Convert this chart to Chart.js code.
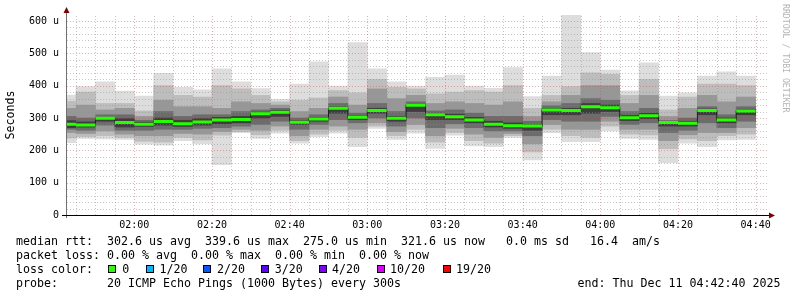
<!DOCTYPE html>
<html lang="en">
<head>
  <meta charset="UTF-8">
  <script src="https://cdn.jsdelivr.net/npm/chart.js"></script>
  <title>smokeping</title>
  <style>
    body{margin:0; background:#fff;}
    #wrap{position:relative; width:797px; height:297px; font-family:"DejaVu Sans Mono", monospace; color:#000;}
    #wrap canvas{position:absolute; left:0; top:0;}
    .leg{position:absolute; left:16px; font-size:11.63px; line-height:14px; white-space:pre;}
    .box{position:absolute; top:265px; width:6px; height:6px; border:1px solid #000;}
    #credit{position:absolute; left:781px; top:4px; writing-mode:vertical-rl; font-size:8.2px; line-height:10px; color:#b4b4b4; white-space:pre;}
  </style>
</head>
<body>
<div id="wrap">
  <canvas id="c" width="797" height="297"></canvas>
  <div id="credit">RRDTOOL / TOBI OETIKER</div>
  <div class="leg" style="top:234px">median rtt:  302.6 us avg  339.6 us max  275.0 us min  321.6 us now   0.0 ms sd   16.4  am/s</div>
  <div class="leg" style="top:248px">packet loss: 0.00 % avg  0.00 % max  0.00 % min  0.00 % now</div>
  <div class="leg" style="top:262px">loss color:</div>
  <div id="lossRow"></div>
  <div class="leg" style="top:276px">probe:       20 ICMP Echo Pings (1000 Bytes) every 300s</div>
  <div class="leg" style="top:276px; left:577.5px">end: Thu Dec 11 04:42:40 2025</div>
</div>
<script>
  // 5 minute slots (end time of each slot)
  const slotEnd = ['01:45','01:50','01:55','02:00','02:05','02:10','02:15','02:20','02:25','02:30','02:35','02:40',
                   '02:45','02:50','02:55','03:00','03:05','03:10','03:15','03:20','03:25','03:30','03:35','03:40',
                   '03:45','03:50','03:55','04:00','04:05','04:10','04:15','04:20','04:25','04:30','04:35','04:40'];

  // median rtt (us)
  const median = [281,278,299,286,281,289,282,288,294,295,313,318,287,297,330,302,323,299,339.6,310,304,294,281,276,275.0,325,323,335,332,301,307,286,284,323,294,321.6];

  // smoke: sorted pings, outer pair -> inner pair (us)
  const pMin = [224,237,235,234,219,216,230,220,156,255,237,253,222,242,253,211,268,234,253,206,247,214,211,240,170,255,227,227,260,237,234,162,222,211,232,234];
  const pMax = [371,397,412,383,368,438,395,387,452,412,391,358,405,474,399,533,452,412,399,426,433,399,392,456,366,430,621,502,448,384,471,368,378,430,443,430];
  const lo1 = [238,242,245,240,228,225,240,232,247,258,248,262,230,250,262,240,275,245,265,225,255,230,222,245,195,265,245,240,275,250,248,205,235,230,245,250];
  const hi1 = [352,380,345,345,322,400,370,365,400,390,370,350,355,362,385,378,420,395,390,375,380,385,380,400,330,370,397,440,435,370,420,325,365,405,405,400];
  const lo2 = [255,252,260,250,245,245,252,250,258,265,262,275,245,265,275,265,285,258,280,245,268,250,240,252,220,280,265,265,290,265,265,230,248,255,255,270];
  const hi2 = [330,340,325,330,305,355,335,335,330,350,345,340,320,330,365,340,390,360,370,345,350,345,340,350,305,350,370,400,400,345,370,305,330,370,350,365];
  const lo3 = [265,262,278,262,262,265,265,268,270,275,280,290,265,280,295,285,300,275,300,270,282,270,260,260,245,295,290,290,305,280,285,255,262,285,270,290];
  const hi3 = [305,300,310,310,293,320,305,310,310,320,325,330,300,310,345,315,345,320,350,322,325,315,305,305,290,338,345,360,355,320,330,292,300,335,310,335];
  const lo4 = [270,272,290,272,274,278,274,278,282,285,300,305,280,290,315,295,315,290,320,295,295,285,272,268,262,310,310,315,320,292,298,275,275,310,285,310];
  const hi4 = [292,288,302,298,287,300,293,298,302,305,318,324,292,302,335,307,330,305,343,315,312,302,290,285,280,330,330,345,340,308,315,290,290,328,300,327];

  const yTicks = [0,100,200,300,400,500,600];
  const xTicks = ['02:00','02:20','02:40','03:00','03:20','03:40','04:00','04:20','04:40'];

  const lossLabels = ['0','1/20','2/20','3/20','4/20','10/20','19/20'];
  const lossColors = ['#26ff00','#00b8ff','#0059ff','#5e00ff','#7e00ff','#dd00ff','#ff0000'];

  function toMin(s){ const p = s.split(':').map(Number); return p[0]*60 + p[1]; }
  function fmt(v){ const h = Math.floor(v/60), m = Math.round(v%60); return String(h).padStart(2,'0')+':'+String(m).padStart(2,'0'); }

  const viewStart = toMin('01:42') + 40/60;  // 01:42:40
  const viewEnd = viewStart + 180;

  // loss colour legend
  const boxX = [108,146,203,261,319,377,443];
  const lblX = [122.3,159.4,217,274.7,332,390,456];
  const row = document.getElementById('lossRow');
  lossLabels.forEach((l,i)=>{
    const b = document.createElement('div');
    b.className = 'box'; b.style.left = boxX[i]+'px'; b.style.background = lossColors[i];
    row.appendChild(b);
    const t = document.createElement('div');
    t.className = 'leg'; t.style.top = '262px'; t.style.left = lblX[i]+'px'; t.textContent = l;
    row.appendChild(t);
  });

  // smoke bands, lightest first
  const bands = [[pMin,pMax,'#dddddd'],[lo1,hi1,'#bdbdbd'],[lo2,hi2,'#979797'],[lo3,hi3,'#6c6c6c'],[lo4,hi4,'#3e3e3e']];
  const datasets = [];
  bands.forEach((b,k)=>{
    datasets.push({
      type:'bar',
      data: slotEnd.map((t,i)=>({x: toMin(t)-2.5, y:[b[0][i], b[1][i]]})),
      backgroundColor: b[2],
      borderWidth: 0,
      grouped: false,
      barPercentage: 1,
      categoryPercentage: 1,
      clip: 0,
      order: 10 - k
    });
  });

  // dark step line (vertical joins between medians)
  const STEP_IDX = datasets.length;
  datasets.push({
    type:'line',
    data: slotEnd.map((t,i)=>({x: toMin(t), y: median[i]})),
    stepped: 'after',
    borderColor: '#202020',
    borderWidth: 1,
    pointRadius: 0,
    clip: 0,
    order: 2
  });

  // green median segments
  const medPts = [];
  slotEnd.forEach((t,i)=>{
    const e = toMin(t);
    medPts.push({x:e-5, y:median[i]}, {x:e, y:median[i]}, {x:e, y:null});
  });
  datasets.push({
    type:'line',
    data: medPts,
    borderColor: lossColors[0],
    borderWidth: 3,
    pointRadius: 0,
    spanGaps: false,
    clip: 0,
    order: 1
  });

  const gridPlugin = {
    id:'rrdGrid',
    beforeDatasetDraw(chart, args){
      if(args.index !== STEP_IDX) return;
      const {ctx, chartArea:a, scales:{x, y}} = chart;
      ctx.save();
      ctx.lineWidth = 1;
      ctx.setLineDash([1,2]);
      for(let v=20; v<=y.max; v+=20){
        const py = Math.round(y.getPixelForValue(v)) + 0.5;
        ctx.strokeStyle = v%100===0 ? 'rgba(226,60,60,0.42)' : 'rgba(143,143,143,0.5)';
        ctx.beginPath(); ctx.moveTo(a.left, py); ctx.lineTo(a.right+3, py); ctx.stroke();
      }
      slotEnd.forEach(t=>{
        const m = toMin(t);
        const px = Math.round(x.getPixelForValue(m)) + 0.5;
        ctx.strokeStyle = m%20===0 ? 'rgba(226,60,60,0.42)' : 'rgba(143,143,143,0.5)';
        ctx.beginPath(); ctx.moveTo(px, a.bottom); ctx.lineTo(px, a.top-1); ctx.stroke();
      });
      ctx.restore();
    },
    afterDraw(chart){
      const {ctx, chartArea:a} = chart;
      ctx.save();
      // y axis
      ctx.fillStyle = '#707070';
      ctx.fillRect(a.left-1, 12, 1, a.bottom-12+3);
      ctx.fillStyle = '#7f0000';
      ctx.beginPath(); ctx.moveTo(a.left-0.5, 7); ctx.lineTo(a.left-3.5, 13); ctx.lineTo(a.left+2.5, 13); ctx.closePath(); ctx.fill();
      // x axis
      ctx.fillStyle = '#000';
      ctx.fillRect(a.left-5, a.bottom, a.right+4-(a.left-5), 1);
      ctx.fillStyle = '#7f0000';
      ctx.beginPath(); ctx.moveTo(a.right+9, a.bottom+0.5); ctx.lineTo(a.right+3, a.bottom-2.5); ctx.lineTo(a.right+3, a.bottom+3.5); ctx.closePath(); ctx.fill();
      ctx.restore();
    }
  };

  const tickFont = {family:'DejaVu Sans Mono', size:10};

  new Chart(document.getElementById('c'), {
    type:'bar',
    data:{ datasets: datasets },
    options:{
      responsive:false,
      animation:false,
      devicePixelRatio:1,
      events:[],
      layout:{ padding:{top:15, right:31, left:0, bottom:0} },
      plugins:{ legend:{display:false}, tooltip:{enabled:false} },
      scales:{
        x:{
          type:'linear',
          min: viewStart,
          max: viewEnd,
          bounds:'data',
          offset:false,
          grid:{display:false, drawTicks:false},
          border:{display:false},
          afterBuildTicks: s => { s.ticks = xTicks.map(t=>({value: toMin(t)})); },
          afterFit: s => { s.height = 82; },
          ticks:{ autoSkip:false, maxRotation:0, padding:4, color:'#000', font:tickFont,
                  callback: v => fmt(v) }
        },
        y:{
          type:'linear',
          min:0,
          max:618.6,
          bounds:'data',
          grid:{display:false, drawTicks:false},
          border:{display:false},
          afterBuildTicks: s => { s.ticks = yTicks.map(v=>({value:v})); },
          afterFit: s => { s.width = 67; },
          title:{ display:true, text:'Seconds', color:'#000', font:{family:'DejaVu Sans Mono', size:11.63}, padding:{top:4, bottom:0} },
          ticks:{ padding:8, color:'#000', font:tickFont,
                  callback: v => v===0 ? '0' : v+' u' }
        }
      }
    },
    plugins:[gridPlugin]
  });
</script>
</body>
</html>
